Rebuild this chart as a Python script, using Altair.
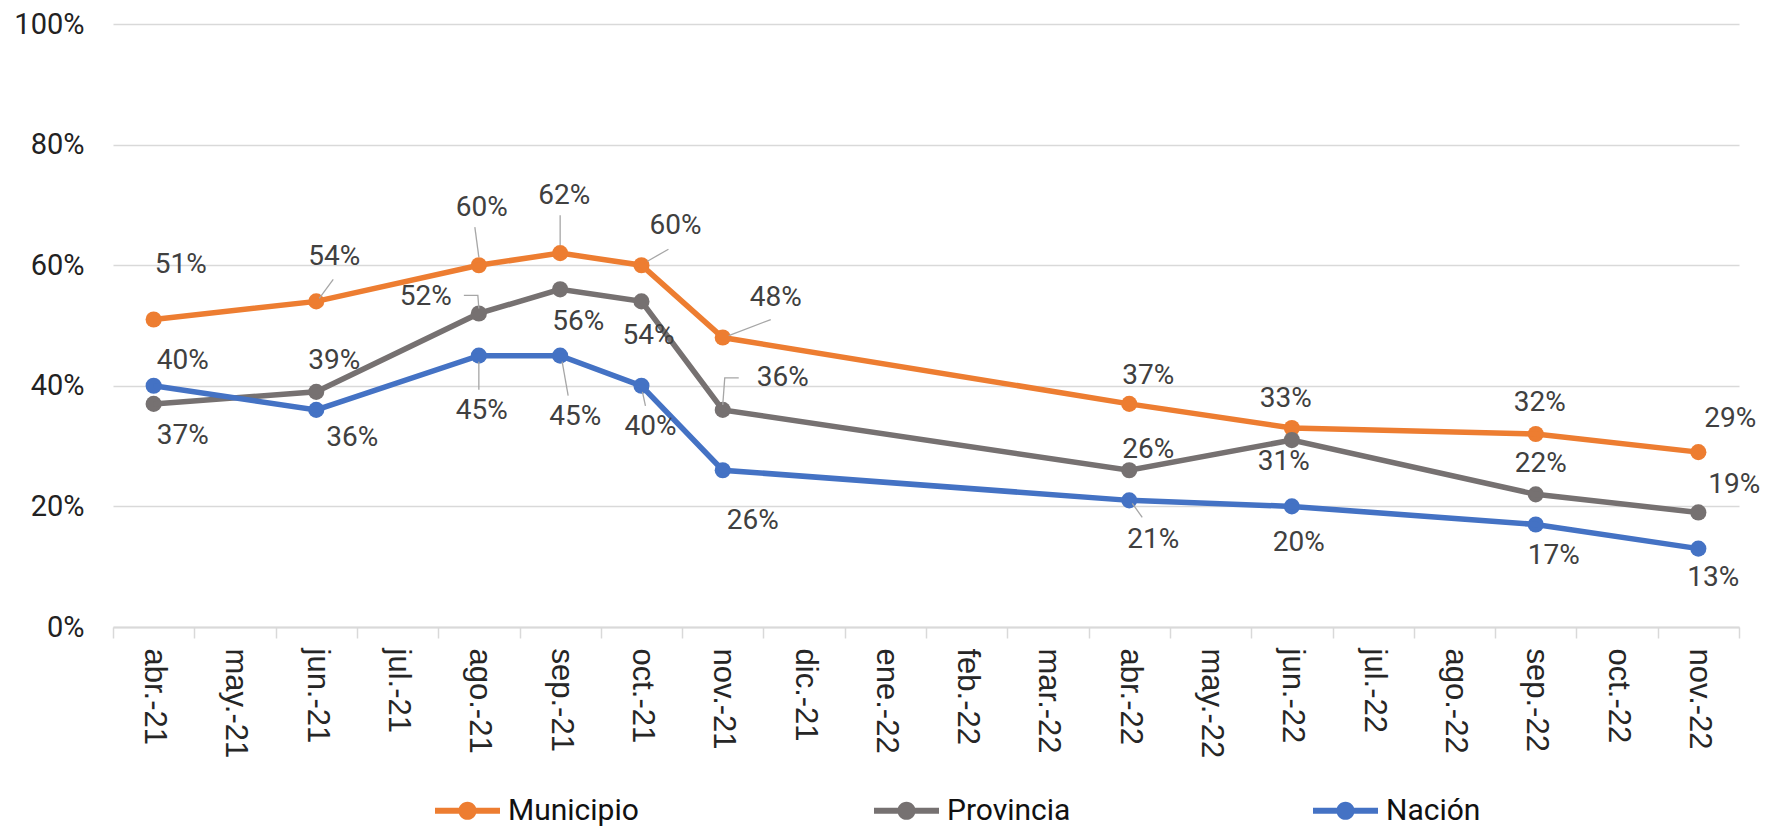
import altair as alt
import pandas as pd

# ---- data ----
months = ["abr.-21", "may.-21", "jun.-21", "jul.-21", "ago.-21", "sep.-21", "oct.-21",
          "nov.-21", "dic.-21", "ene.-22", "feb.-22", "mar.-22", "abr.-22", "may.-22",
          "jun.-22", "jul.-22", "ago.-22", "sep.-22", "oct.-22", "nov.-22"]
obs_months = ["abr.-21", "jun.-21", "ago.-21", "sep.-21", "oct.-21", "nov.-21",
              "abr.-22", "jun.-22", "sep.-22", "nov.-22"]
series_names = ["Municipio", "Provincia", "Nación"]
municipio = [51, 54, 60, 62, 60, 48, 37, 33, 32, 29]
provincia = [37, 39, 52, 56, 54, 36, 26, 31, 22, 19]
nacion = [40, 36, 45, 45, 40, 26, 21, 20, 17, 13]
colors = ["#ED7D31", "#767171", "#4472C4"]

# label placement offsets (pixels from the point), one per point, as in the reference
mun_dx = [27, 18, 3, 4, 34, 53, 19, -6, 4, 32]
mun_dy = [-54, -44, -57, -57, -39, -40, -28, -29, -31, -33]
prov_dx = [29, 18, -53, 18, 7, 60, 19, -8, 5, 36]
prov_dy = [32, -31, -16, 33, 35, -32, -20, 22, -30, -27]
nac_dx = [29, 36, 3, 15, 9, 30, 24, 7, 18, 15]
nac_dy = [-25, 28, 55, 61, 41, 51, 40, 37, 32, 29]

# leader lines (series, month, polyline offsets in pixels from the point)
leader_series = ["Municipio", "Municipio", "Municipio", "Municipio", "Municipio",
                 "Provincia", "Provincia", "Nación", "Nación", "Nación", "Nación"]
leader_month = ["jun.-21", "ago.-21", "sep.-21", "oct.-21", "nov.-21",
                "ago.-21", "nov.-21", "ago.-21", "sep.-21", "oct.-21", "abr.-22"]
leader_path = [[(3, -3), (17, -22)],
               [(0, -8), (-4, -38)],
               [(0, -8), (0, -38)],
               [(6, -4), (27, -16)],
               [(6, -2), (48, -18)],
               [(0, -5), (-1, -18), (-15, -18)],
               [(0, -5), (2, -32), (16, -32)],
               [(0, 6), (0, 34)],
               [(2, 6), (8, 40)],
               [(1, 6), (4, 20)],
               [(3, 3), (13, 17)]]

W, H = 1626, 603
HALF_BAND = W / len(months) / 2

series_vals = {"Municipio": municipio, "Provincia": provincia, "Nación": nacion}
rows = []
for name, dxs, dys in [("Municipio", mun_dx, mun_dy),
                       ("Provincia", prov_dx, prov_dy),
                       ("Nación", nac_dx, nac_dy)]:
    for m, v, dx, dy in zip(obs_months, series_vals[name], dxs, dys):
        rows.append({"mes": m, "serie": name, "valor": v / 100.0,
                     "dx": dx + HALF_BAND, "dy": dy})
df = pd.DataFrame(rows)

lrows = []
for i, (s, m, path) in enumerate(zip(leader_series, leader_month, leader_path)):
    v = series_vals[s][obs_months.index(m)] / 100.0
    for k, (ox, oy) in enumerate(path):
        lrows.append({"lid": i, "k": k, "mes": m, "valor": v,
                      "lx": ox + HALF_BAND, "ly": oy})
ldf = pd.DataFrame(lrows)

x_enc = alt.X("mes:N", sort=months,
              scale=alt.Scale(type="band", domain=months, paddingInner=0, paddingOuter=0),
              axis=alt.Axis(title=None, labelAngle=90, labelFont="Liberation Sans",
                            labelFontSize=31, labelColor="#262626", labelPadding=10,
                            tickSize=11, tickBand="extent", tickColor="#d9d9d9",
                            tickWidth=1.5, domainColor="#d9d9d9", domainWidth=2,
                            grid=False))
y_axis = alt.Axis(title=None, format=".0%", values=[0, 0.2, 0.4, 0.6, 0.8, 1.0],
                  labelFont="Roboto", labelFontSize=29, labelColor="#222222",
                  labelPadding=29, tickSize=0, ticks=False, domain=False,
                  grid=True, gridColor="#d9d9d9", gridWidth=1.5)
y_scale = alt.Scale(domain=[0, 1], nice=False)
y_enc = alt.Y("valor:Q", scale=y_scale, axis=y_axis)
color_scale = alt.Scale(domain=series_names, range=colors)

legend_path = ("M-1,-0.09L1,-0.09L1,0.09L-1,0.09Z"
               "M0.28,0A0.28,0.28,0,1,1,-0.28,0A0.28,0.28,0,1,1,0.28,0Z")
legend = alt.Legend(title=None, orient="none", direction="horizontal",
                    legendX=322, legendY=754, columns=3,
                    gridAlign="all", columnPadding=235,
                    symbolType=legend_path, symbolSize=4225,
                    symbolOpacity=1, symbolStrokeWidth=0,
                    labelFont="Roboto", labelFontSize=30,
                    labelColor="#111111", labelOffset=8,
                    labelLimit=400, padding=0)
color_enc = alt.Color("serie:N", scale=color_scale, legend=legend)

base = alt.Chart(df)

leaders = alt.Chart(ldf).transform_calculate(
    ly2=f"datum.valor - datum.ly / {H}"
).mark_line(color="#a6a6a6", strokeWidth=1.3).encode(
    x=x_enc,
    y=alt.Y("ly2:Q", scale=y_scale, axis=y_axis),
    xOffset=alt.XOffset("lx:Q", scale=None),
    detail="lid:N",
    order="k:Q",
)

lines = base.mark_line(strokeWidth=5.5).encode(
    x=x_enc, y=y_enc, color=color_enc, detail="serie:N",
)

points = base.mark_point(filled=True, size=260, opacity=1).encode(
    x=x_enc, y=y_enc, color=color_enc,
)

labels = base.transform_calculate(
    ypos=f"datum.valor - datum.dy / {H}"
).mark_text(font="Roboto", fontSize=28, color="#404040",
            align="center", baseline="middle").encode(
    x=x_enc,
    y=alt.Y("ypos:Q", scale=y_scale, axis=y_axis),
    xOffset=alt.XOffset("dx:Q", scale=None),
    text=alt.Text("valor:Q", format=".0%"),
)

chart = alt.layer(points, lines, leaders, labels).properties(
    width=W, height=H,
    autosize=alt.AutoSizeParams(type="none"),
    padding={"left": 105, "top": 16, "right": 25, "bottom": 201},
).configure_view(stroke=None)

chart.save("out.html", embed_options={"renderer": "svg", "actions": False})
